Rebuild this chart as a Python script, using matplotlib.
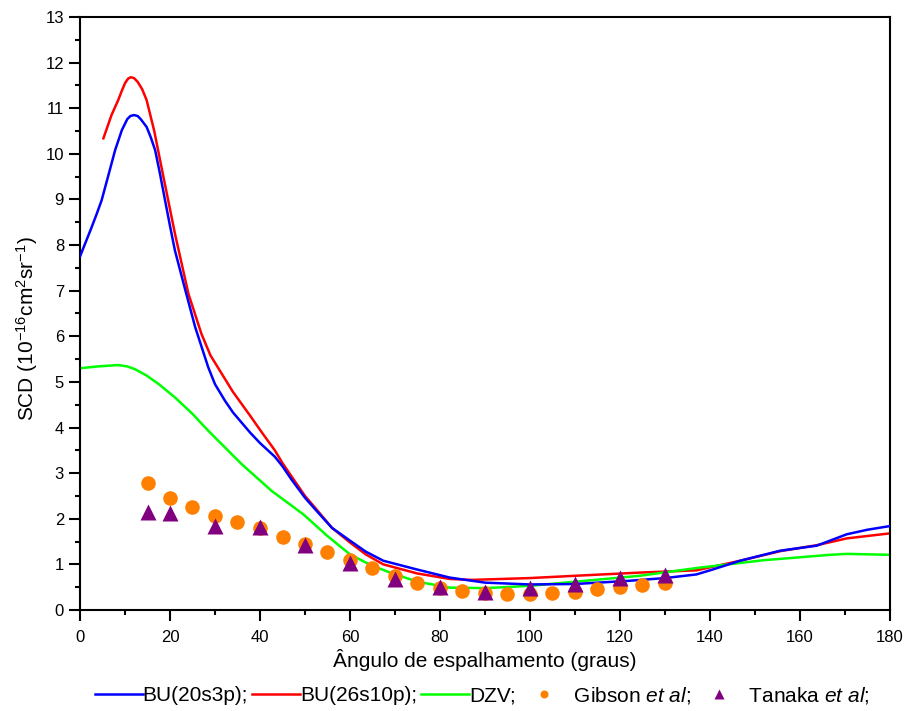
import matplotlib
matplotlib.use("Agg")
import matplotlib.pyplot as plt
from matplotlib.ticker import MultipleLocator

plt.rcParams['font.family'] = ['Liberation Sans', 'DejaVu Sans']
plt.rcParams['mathtext.fontset'] = 'custom'
plt.rcParams['mathtext.rm'] = 'Liberation Sans'
plt.rcParams['mathtext.it'] = 'Liberation Sans:italic'
plt.rcParams['mathtext.default'] = 'regular'
plt.rcParams['axes.unicode_minus'] = False

# BU(20s3p)
bu20_x = [0, 2.5, 3.7, 4.8, 6.5, 7.8, 9.3, 10.5, 11.2, 12, 12.8, 13.5, 14.8, 15.7, 16.7, 17.8, 18.9, 20, 21.1, 23.3, 25.6, 28.5, 30, 32.2, 34, 37.8, 40, 43.3, 45, 47, 50, 52.6, 56, 60, 63.5, 67.4, 74.8, 82.2, 90, 100, 110, 122, 130, 137, 141, 146.7, 155.6, 163.7, 170.4, 175, 180]
bu20_y = [7.75, 8.37, 8.68, 8.98, 9.6, 10.08, 10.52, 10.76, 10.83, 10.85, 10.83, 10.76, 10.59, 10.37, 10.08, 9.55, 8.98, 8.42, 7.88, 7.05, 6.2, 5.32, 4.95, 4.59, 4.33, 3.89, 3.66, 3.36, 3.15, 2.86, 2.46, 2.17, 1.8, 1.52, 1.28, 1.08, 0.89, 0.71, 0.6, 0.56, 0.57, 0.64, 0.7, 0.78, 0.9, 1.08, 1.3, 1.41, 1.66, 1.76, 1.84]

# BU(26s10p)
bu26_x = [5.2, 7, 8.5, 9.2, 10, 10.7, 11.3, 12, 12.8, 13.8, 14.8, 16.5, 18.1, 21.1, 24.1, 27, 29, 31.5, 34, 37.8, 40.5, 43.3, 45, 47, 50, 52.6, 56, 60, 63.5, 67.4, 75, 82.2, 87, 100, 110, 124.4, 137, 146.7, 155.6, 163.7, 170.4, 180]
bu26_y = [10.34, 10.85, 11.18, 11.36, 11.55, 11.65, 11.68, 11.66, 11.58, 11.42, 11.18, 10.5, 9.71, 8.25, 6.93, 6.05, 5.58, 5.18, 4.78, 4.26, 3.88, 3.5, 3.22, 2.93, 2.5, 2.2, 1.8, 1.48, 1.22, 1.0, 0.8, 0.68, 0.66, 0.7, 0.75, 0.82, 0.87, 1.08, 1.29, 1.42, 1.57, 1.68]

# DZV
dzv_x = [0, 4, 8.5, 10.5, 12.2, 14.8, 17.4, 21.1, 25, 28.5, 35.9, 42.6, 49.6, 55, 60, 64.5, 68.9, 75, 82.2, 90.4, 100, 110, 124.4, 137, 151.8, 166.7, 170.4, 180]
dzv_y = [5.3, 5.34, 5.37, 5.34, 5.28, 5.14, 4.96, 4.66, 4.3, 3.93, 3.2, 2.61, 2.1, 1.62, 1.22, 0.99, 0.82, 0.62, 0.49, 0.48, 0.53, 0.62, 0.75, 0.92, 1.09, 1.21, 1.23, 1.21]

# Gibson et al
gib_x = [15, 20, 25, 30, 35, 40, 45, 50, 55, 60, 65, 70, 75, 80, 85, 90, 95, 100, 105, 110, 115, 120, 125, 130]
gib_y = [2.78, 2.45, 2.26, 2.06, 1.94, 1.79, 1.59, 1.44, 1.28, 1.09, 0.91, 0.75, 0.6, 0.49, 0.42, 0.38, 0.34, 0.36, 0.37, 0.4, 0.45, 0.5, 0.55, 0.6]

# Tanaka et al
tan_x = [15, 20, 30, 40, 50, 60, 70, 80, 90, 100, 110, 120, 130]
tan_y = [2.14, 2.12, 1.84, 1.82, 1.42, 1.03, 0.69, 0.5, 0.4, 0.49, 0.56, 0.7, 0.77]

fig = plt.figure(figsize=(9.07, 7.11), dpi=100)
ax = fig.add_axes([80/907, 1-610/711, (890-80)/907, (610-17)/711])

ax.plot(bu20_x, bu20_y, color='#0000ff', lw=1.8, label='BU(20s3p);', zorder=3)
ax.plot(bu26_x, bu26_y, color='#ff0000', lw=1.8, label='BU(26s10p);', zorder=2)
ax.plot(dzv_x, dzv_y, color='#00ff00', lw=1.8, label='DZV;', zorder=2)
ax.plot(gib_x, gib_y, 'o', color='#ff8000', ms=10.5, mec='none', label=' Gibson $\\it{et\\ al}$;', zorder=4)
ax.plot(tan_x, tan_y, '^', color='#800080', ms=12, mec='none', label=' Tanaka $\\it{et\\ al}$;', zorder=5)

ax.set_xlim(0, 180)
ax.set_ylim(0, 13)
ax.xaxis.set_major_locator(MultipleLocator(20))
ax.xaxis.set_minor_locator(MultipleLocator(10))
ax.yaxis.set_major_locator(MultipleLocator(1))
ax.yaxis.set_minor_locator(MultipleLocator(0.5))
ax.tick_params(which='both', direction='out', top=False, right=False, width=1.5, labelsize=12)
ax.tick_params(which='major', length=8)
ax.tick_params(which='minor', length=3.8)
ax.tick_params(axis='x', which='major', pad=6.5)
ax.tick_params(axis='y', which='major', pad=3.5)
for s in ax.spines.values():
    s.set_linewidth(1.5)

ax.set_xlabel('Ângulo de espalhamento (graus)', fontsize=15, labelpad=3)
ax.set_ylabel('SCD (10$^{-16}$cm$^{2}$sr$^{-1}$)', fontsize=15)
ax.yaxis.set_label_coords(-0.049, 0.475)

leg = fig.legend(loc='center', bbox_to_anchor=(482/907, 1-695/711), ncol=5, frameon=False,
                 fontsize=15, handlelength=2.3, handletextpad=0.0, columnspacing=0.2,
                 markerscale=0.55)

fig.savefig('out.png', dpi=100)
